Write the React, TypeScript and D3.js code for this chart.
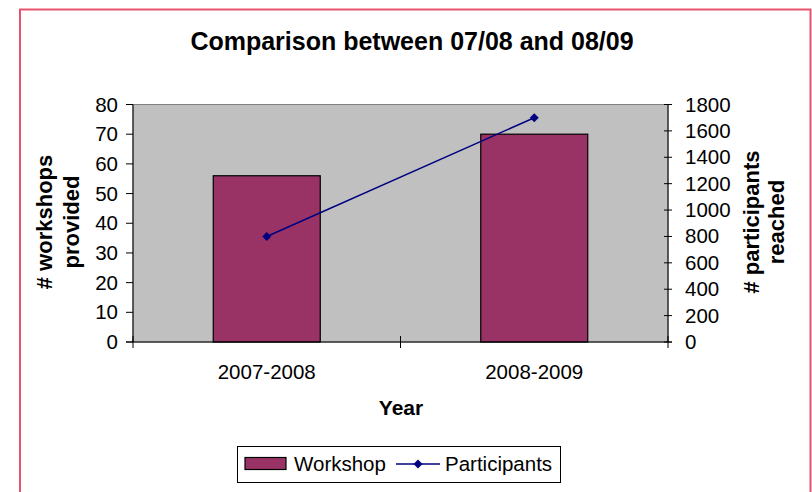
import React from "react";
import * as d3 from "d3";

const categories = ["2007-2008", "2008-2009"];
const workshops = [56, 70];
const participants = [800, 1700];
const leftTicks = [0, 10, 20, 30, 40, 50, 60, 70, 80];
const rightTicks = [0, 200, 400, 600, 800, 1000, 1200, 1400, 1600, 1800];

const W = 812;
const H = 492;
const font = "'Liberation Sans', Arial, sans-serif";

export default function App() {
  const left = 133, right = 668, top = 104.5, bottom = 342;
  const x = d3.scaleBand<string>().domain(categories).range([left, right]).paddingInner(0.6).paddingOuter(0.3);
  const xb = d3.scaleBand<string>().domain(categories).range([left, right]);
  const yL = d3.scaleLinear().domain([0, 80]).range([bottom, top]);
  const yR = d3.scaleLinear().domain([0, 1800]).range([bottom, top]);
  const line = d3.line<number>().x((_, i) => (xb(categories[i]) as number) + xb.bandwidth() / 2).y((d) => yR(d));
  const diamond = (cx: number, cy: number, r = 4.5) => `M${cx},${cy - r}L${cx + r},${cy}L${cx},${cy + r}L${cx - r},${cy}Z`;
  const fs = 20.5;

  return (
    <svg width={W} height={H} style={{ display: "block", position: "absolute", left: 0, top: 0 }} fontFamily={font}>
      <rect x={0} y={0} width={W} height={H} fill="#fff" />
      <path d={`M20,${H + 2}V9.5H810.5V${H + 2}`} fill="none" stroke="#e8546c" strokeWidth={2} />
      <text x={412} y={50} textAnchor="middle" fontSize={25} fontWeight="bold">Comparison between 07/08 and 08/09</text>

      <rect x={left} y={top} width={right - left} height={bottom - top} fill="#c0c0c0" stroke="#808080" strokeWidth={1} />
      {categories.map((c, i) => (
        <rect key={c} x={x(c)} y={yL(workshops[i])} width={x.bandwidth()} height={bottom - yL(workshops[i])} fill="#993366" stroke="#000" strokeWidth={1.2} />
      ))}
      <path d={line(participants) || ""} fill="none" stroke="#000080" strokeWidth={1.5} />
      {participants.map((p, i) => (
        <path key={i} d={diamond((xb(categories[i]) as number) + xb.bandwidth() / 2, yR(p))} fill="#000080" />
      ))}

      {/* left axis */}
      <line x1={left} x2={left} y1={top} y2={bottom} stroke="#000" />
      {leftTicks.map((t) => (
        <g key={t}>
          <line x1={left - 7} x2={left} y1={yL(t)} y2={yL(t)} stroke="#000" />
          <text x={118} y={yL(t) + 7} textAnchor="end" fontSize={fs}>{t}</text>
        </g>
      ))}
      {/* right axis */}
      <line x1={right} x2={right} y1={top} y2={bottom} stroke="#000" />
      {rightTicks.map((t) => (
        <g key={t}>
          <line x1={right - 4} x2={right + 4} y1={yR(t)} y2={yR(t)} stroke="#000" />
          <text x={685} y={yR(t) + 7} fontSize={fs}>{t}</text>
        </g>
      ))}
      {/* x axis */}
      <line x1={left - 7} x2={right + 4} y1={bottom} y2={bottom} stroke="#000" />
      {[left, left + xb.bandwidth(), right].map((v, i) => (
        <line key={i} x1={v} x2={v} y1={bottom - 6} y2={bottom + 6} stroke="#000" />
      ))}
      {categories.map((c) => (
        <text key={c} x={(xb(c) as number) + xb.bandwidth() / 2} y={379} textAnchor="middle" fontSize={fs}>{c}</text>
      ))}
      <text x={401} y={415} textAnchor="middle" fontSize={21} fontWeight="bold">Year</text>

      <g transform="translate(52,222) rotate(-90)">
        <text x={0} y={0} textAnchor="middle" fontSize={22} fontWeight="bold">
          <tspan x={0} dy={0}># workshops</tspan>
          <tspan x={0} dy={27}>provided</tspan>
        </text>
      </g>
      <g transform="translate(759,222) rotate(-90)">
        <text x={0} y={0} textAnchor="middle" fontSize={22} fontWeight="bold">
          <tspan x={0} dy={0}># participants</tspan>
          <tspan x={0} dy={25}>reached</tspan>
        </text>
      </g>

      {/* legend */}
      <rect x={237.5} y={446.5} width={323} height={36} fill="#fff" stroke="#000" />
      <rect x={245} y={457.5} width={41} height={12} fill="#993366" stroke="#000" strokeWidth={1.2} />
      <text x={294} y={471} fontSize={fs}>Workshop</text>
      <line x1={396} x2={440} y1={464} y2={464} stroke="#000080" strokeWidth={1.5} />
      <path d={diamond(418, 464)} fill="#000080" />
      <text x={445} y={471} fontSize={fs}>Participants</text>
    </svg>
  );
}
